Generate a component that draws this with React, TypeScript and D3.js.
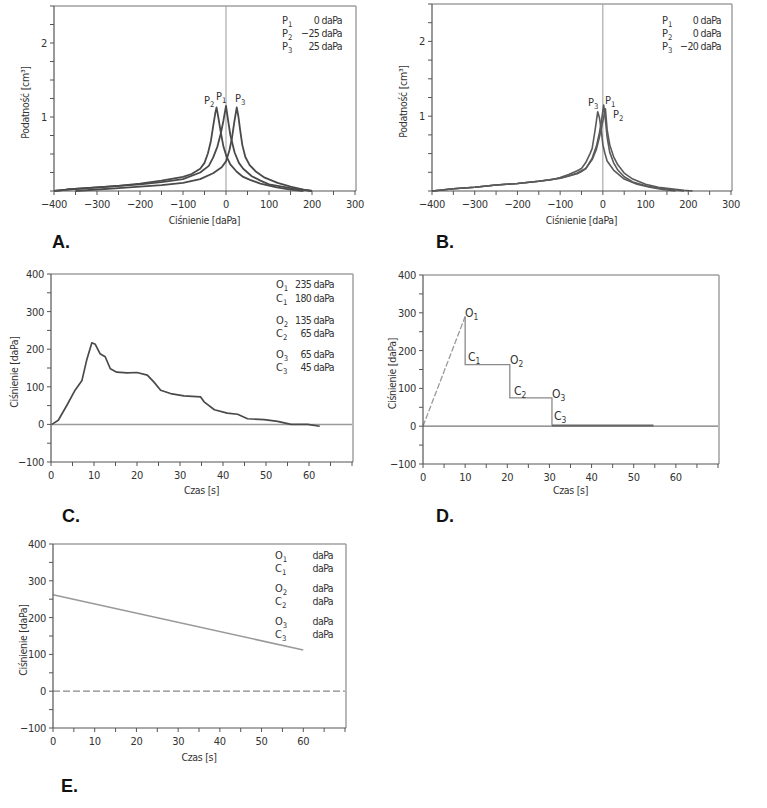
import React from 'react';
import * as d3 from 'd3';

// ---- data ----
// A: tympanograms, pressure [daPa] vs compliance [cm3]
const curveA_P2: [number, number][] = [[-400,0],[-370,0.02],[-300,0.05],[-250,0.07],[-200,0.1],[-150,0.14],[-100,0.19],[-80,0.23],[-60,0.3],[-50,0.38],[-42,0.51],[-35,0.68],[-30,0.87],[-25,1.05],[-22,1.13],[-18,1.0],[-12,0.79],[-6,0.6],[1,0.47],[10,0.36],[25,0.26],[40,0.19],[56,0.15],[80,0.1],[118,0.05],[150,0.02],[180,0]];
const curveA_P1: [number, number][] = [[-400,0],[-370,0.02],[-300,0.05],[-200,0.09],[-150,0.12],[-100,0.16],[-60,0.25],[-40,0.34],[-30,0.45],[-20,0.6],[-12,0.78],[-6,0.95],[0,1.15],[5,0.95],[10,0.76],[20,0.52],[30,0.38],[40,0.3],[60,0.2],[80,0.14],[100,0.09],[150,0.04],[200,0]];
const curveA_P3: [number, number][] = [[-350,0],[-300,0.02],[-250,0.04],[-200,0.06],[-150,0.08],[-100,0.11],[-60,0.16],[-30,0.24],[-10,0.32],[0,0.4],[8,0.55],[14,0.72],[19,0.92],[25,1.13],[29,1.0],[33,0.82],[38,0.62],[45,0.46],[55,0.35],[70,0.26],[90,0.18],[120,0.11],[150,0.06],[180,0.02],[200,0]];

// B: tympanograms
const curveB_P3: [number, number][] = [[-400,0],[-380,0.01],[-350,0.03],[-300,0.05],[-250,0.08],[-200,0.1],[-150,0.13],[-120,0.15],[-100,0.18],[-80,0.22],[-60,0.27],[-50,0.3],[-40,0.38],[-30,0.5],[-25,0.57],[-18,0.82],[-12,1.06],[-8,0.98],[-4,0.82],[0,0.62],[5,0.5],[10,0.4],[25,0.28],[50,0.16],[80,0.09],[110,0.05],[140,0.02],[170,0]];
const curveB_P1: [number, number][] = [[-400,0],[-350,0.03],[-300,0.05],[-250,0.08],[-200,0.1],[-150,0.13],[-100,0.17],[-80,0.2],[-60,0.23],[-50,0.26],[-40,0.3],[-25,0.44],[-15,0.6],[-8,0.78],[-3,0.95],[2,1.15],[6,0.95],[10,0.72],[16,0.52],[25,0.38],[35,0.28],[50,0.19],[70,0.12],[100,0.07],[130,0.04],[160,0.02],[190,0]];
const curveB_P2: [number, number][] = [[-400,0],[-350,0.03],[-300,0.05],[-250,0.08],[-200,0.1],[-150,0.13],[-100,0.17],[-80,0.2],[-60,0.24],[-40,0.3],[-25,0.42],[-15,0.56],[-8,0.72],[-2,0.88],[3,1.02],[6,1.1],[10,0.82],[16,0.62],[25,0.46],[35,0.35],[50,0.24],[70,0.16],[100,0.09],[130,0.05],[160,0.03],[190,0.01],[210,0]];

// C: pressure [daPa] vs time [s]
const timeC = [0.2,1.7,3.7,5.6,7.2,8.3,9.5,10.3,11.4,12.6,13.8,15.3,17.7,20,22.4,23.9,25.5,27.8,30.9,34.8,35.6,38,41,43.4,45.7,49.6,52.7,55.8,59.7,62.5];
const pressC = [0,11,51,91,117,171,217,213,188,180,148,139,137,138,131,113,91,82,76,73,60,39,30,27,15,12.5,8,0,0,-5];

// D: stepped pressure protocol
const riseD: [number, number][] = [[0, 0], [10, 290]];
const stepsD: [number, number][] = [[10, 290], [10, 163], [20.6, 163], [20.6, 75], [30.6, 75], [30.6, 2]];
const tailD: [number, number][] = [[30.6, 2], [54.7, 2]];

// E: linear decay
const lineE: [number, number][] = [[0, 262], [60, 112]];

// tick values
const tympXTicks = [-400, -300, -200, -100, 0, 100, 200, 300];
const tympXMinor = [-350, -250, -150, -50, 50, 150, 250];
const tympYTicks = [1, 2];
const tympYMinor = [0, 0.25, 0.5, 0.75, 1.25, 1.5, 1.75, 2.25, 2.5];
const timeXTicks = [0, 10, 20, 30, 40, 50, 60];
const timeXMinor = [5, 15, 25, 35, 45, 55, 65, 70];
const pressYTicks = [-100, 0, 100, 200, 300, 400];
const pressYMinor = [-50, 50, 150, 250, 350];

const legendA = [['P', '1', '0 daPa'], ['P', '2', '\u221225 daPa'], ['P', '3', '25 daPa']];
const legendB = [['P', '1', '0 daPa'], ['P', '2', '0 daPa'], ['P', '3', '\u221220 daPa']];
const legendC = [['O', '1', '235 daPa'], ['C', '1', '180 daPa'], ['O', '2', '135 daPa'], ['C', '2', '65 daPa'], ['O', '3', '65 daPa'], ['C', '3', '45 daPa']];
const legendE = [['O', '1', 'daPa'], ['C', '1', 'daPa'], ['O', '2', 'daPa'], ['C', '2', 'daPa'], ['O', '3', 'daPa'], ['C', '3', 'daPa']];

const FONT = "'Liberation Sans Narrow', 'DejaVu Sans Condensed', 'Arial Narrow', sans-serif";
const AXIS = '#555';
const FRAME = '#a0a0a0';

const Sub = ({ x, y, base, sub, size = 11, anchor = 'start' }: any) => (
  <text x={x} y={y} fontSize={size} fontFamily={FONT} fill="#333" textAnchor={anchor}>
    {base}
    <tspan dy={3} fontSize={size * 0.7}>{sub}</tspan>
  </text>
);

const Val = ({ x, y, t }: any) => (
  <text x={x} y={y} fontSize={10.5} letterSpacing={-0.6} fontFamily={FONT} fill="#333" textAnchor="end">{t}</text>
);

interface PanelProps {
  x0: number; x1: number; y0: number; y1: number;
  xDomain: [number, number]; yDomain: [number, number];
  xTicks: number[]; xMinor: number[]; yTicks: number[]; yMinor: number[];
  xTitle: string; yTitle: string; yTitleX: number; xTitleY: number;
  children: (x: d3.ScaleLinear<number, number>, y: d3.ScaleLinear<number, number>) => React.ReactNode;
}

const Panel = (p: PanelProps) => {
  const x = d3.scaleLinear().domain(p.xDomain).range([p.x0, p.x1]);
  const y = d3.scaleLinear().domain(p.yDomain).range([p.y1, p.y0]);
  const fmt = (v: number) => (v < 0 ? '\u2212' + Math.abs(v) : String(v));
  return (
    <g>
      {/* frame */}
      <line x1={p.x0} x2={p.x1 + 1} y1={p.y0} y2={p.y0} stroke={FRAME} strokeWidth={1.5} />
      <line x1={p.x1 + 1} x2={p.x1 + 1} y1={p.y0} y2={p.y1} stroke={FRAME} strokeWidth={1.5} />
      {p.children(x, y)}
      {/* axes */}
      <line x1={p.x0} x2={p.x0} y1={p.y0} y2={p.y1} stroke={AXIS} strokeWidth={1.2} />
      <line x1={p.x0} x2={p.x1 + 1} y1={p.y1} y2={p.y1} stroke={AXIS} strokeWidth={1.2} />
      {p.xTicks.concat(p.xMinor).map((t) => (
        <line key={'xt' + t} x1={x(t)} x2={x(t)} y1={p.y1} y2={p.y1 + 4} stroke={AXIS} strokeWidth={1} />
      ))}
      {p.yTicks.concat(p.yMinor).map((t) => (
        <line key={'yt' + t} x1={p.x0 - 4} x2={p.x0} y1={y(t)} y2={y(t)} stroke={AXIS} strokeWidth={1} />
      ))}
      {p.xTicks.map((t) => (
        <text key={'xl' + t} x={x(t)} y={p.y1 + 17} fontSize={11} letterSpacing={-0.3} fontFamily={FONT} fill="#333" textAnchor="middle">{fmt(t)}</text>
      ))}
      {p.yTicks.map((t) => (
        <text key={'yl' + t} x={p.x0 - 7} y={y(t) + 4} fontSize={11} letterSpacing={-0.3} fontFamily={FONT} fill="#333" textAnchor="end">{fmt(t)}</text>
      ))}
      <text x={(p.x0 + p.x1) / 2} y={p.xTitleY} fontSize={10.5} letterSpacing={-0.3} fontFamily={FONT} fill="#333" textAnchor="middle">{p.xTitle}</text>
      <text transform={`translate(${p.yTitleX},${(p.y0 + p.y1) / 2 + 4}) rotate(-90)`} fontSize={10.5} letterSpacing={-0.3} fontFamily={FONT} fill="#333" textAnchor="middle">{p.yTitle}</text>
    </g>
  );
};

const PanelLabel = ({ x, y, t }: any) => (
  <text x={x} y={y} fontSize={18} fontWeight="bold" fontFamily="'Liberation Sans', Arial, sans-serif" fill="#111">{t}</text>
);

export default function App() {
  const lineGen = (x: any, y: any) => d3.line<[number, number]>().x((d) => x(d[0])).y((d) => y(d[1]));
  const curveStyle = { fill: 'none', stroke: '#4a4a4a', strokeWidth: 1.8, strokeLinejoin: 'round' as const };
  const curveStyleB = { fill: 'none', stroke: '#5a5a5a', strokeWidth: 1.6, strokeLinejoin: 'round' as const };
  const dataC: [number, number][] = timeC.map((t, i) => [t, pressC[i]]);

  return (
    <svg width={767} height={808} style={{ position: 'absolute', left: 0, top: 0, background: '#fff' }}>
      <rect width={767} height={808} fill="#fff" />

      {/* A */}
      <Panel x0={54} x1={355} y0={6} y1={191} xDomain={[-400, 300]} yDomain={[0, 2.5]}
        xTicks={tympXTicks} xMinor={tympXMinor} yTicks={tympYTicks} yMinor={tympYMinor}
        xTitle="Ciśnienie [daPa]" yTitle="Podatność [cm³]" yTitleX={29} xTitleY={224}>
        {(x, y) => (
          <g>
            <line x1={x(0)} x2={x(0)} y1={6} y2={191} stroke="#999" strokeWidth={1} />
            {[curveA_P2, curveA_P1, curveA_P3].map((c, i) => (
              <path key={i} d={lineGen(x, y)(c) as string} {...curveStyle} />
            ))}
          </g>
        )}
      </Panel>
      <Sub x={204} y={104} base="P" sub="2" />
      <Sub x={216} y={100} base="P" sub="1" />
      <Sub x={235} y={102} base="P" sub="3" />
      {legendA.map((r, i) => (
        <g key={'la' + i}>
          <Sub x={282} y={24 + i * 13} base={r[0]} sub={r[1]} />
          <Val x={342} y={24 + i * 13} t={r[2]} />
        </g>
      ))}
      <PanelLabel x={52} y={248} t="A." />

      {/* B */}
      <Panel x0={432} x1={731} y0={4} y1={191} xDomain={[-400, 300]} yDomain={[0, 2.5]}
        xTicks={tympXTicks} xMinor={tympXMinor} yTicks={tympYTicks} yMinor={tympYMinor}
        xTitle="Ciśnienie [daPa]" yTitle="Podatność [cm³]" yTitleX={407} xTitleY={224}>
        {(x, y) => (
          <g>
            <line x1={x(0)} x2={x(0)} y1={4} y2={191} stroke="#999" strokeWidth={1} />
            {[curveB_P3, curveB_P1, curveB_P2].map((c, i) => (
              <path key={i} d={lineGen(x, y)(c) as string} {...curveStyleB} />
            ))}
          </g>
        )}
      </Panel>
      <Sub x={588} y={106} base="P" sub="3" />
      <Sub x={605} y={104} base="P" sub="1" />
      <Sub x={613} y={118} base="P" sub="2" />
      {legendB.map((r, i) => (
        <g key={'lb' + i}>
          <Sub x={662} y={24 + i * 13} base={r[0]} sub={r[1]} />
          <Val x={721} y={24 + i * 13} t={r[2]} />
        </g>
      ))}
      <PanelLabel x={436} y={248} t="B." />

      {/* C */}
      <Panel x0={51} x1={352} y0={274} y1={462} xDomain={[0, 70]} yDomain={[-100, 400]}
        xTicks={timeXTicks} xMinor={timeXMinor} yTicks={pressYTicks} yMinor={pressYMinor}
        xTitle="Czas [s]" yTitle="Ciśnienie [daPa]" yTitleX={18} xTitleY={494}>
        {(x, y) => (
          <g>
            <line x1={x(0)} x2={x(70)} y1={y(0)} y2={y(0)} stroke="#9a9a9a" strokeWidth={1.5} />
            <path d={lineGen(x, y)(dataC) as string} {...curveStyle} strokeWidth={1.7} />
          </g>
        )}
      </Panel>
      {legendC.map((r, i) => {
        const yy = 288 + [0, 14, 36, 49, 70, 83][i];
        return (
          <g key={'lc' + i}>
            <Sub x={276} y={yy} base={r[0]} sub={r[1]} />
            <Val x={334} y={yy} t={r[2]} />
          </g>
        );
      })}
      <PanelLabel x={62} y={522} t="C." />

      {/* D */}
      <Panel x0={423} x1={718} y0={275} y1={464} xDomain={[0, 70]} yDomain={[-100, 400]}
        xTicks={timeXTicks} xMinor={timeXMinor} yTicks={pressYTicks} yMinor={pressYMinor}
        xTitle="Czas [s]" yTitle="Ciśnienie [daPa]" yTitleX={396} xTitleY={494}>
        {(x, y) => (
          <g>
            <line x1={x(0)} x2={x(70)} y1={y(0)} y2={y(0)} stroke="#777" strokeWidth={1.2} />
            <path d={lineGen(x, y)(riseD) as string} fill="none" stroke="#9a9a9a" strokeWidth={1.3} strokeDasharray="6 2" />
            <path d={lineGen(x, y)(stepsD) as string} fill="none" stroke="#8a8a8a" strokeWidth={1.3} />
            <path d={lineGen(x, y)(tailD) as string} fill="none" stroke="#666" strokeWidth={2} />
          </g>
        )}
      </Panel>
      <Sub x={465} y={317} base="O" sub="1" size={12} />
      <Sub x={468} y={361} base="C" sub="1" size={12} />
      <Sub x={510} y={364} base="O" sub="2" size={12} />
      <Sub x={514} y={395} base="C" sub="2" size={12} />
      <Sub x={552} y={398} base="O" sub="3" size={12} />
      <Sub x={554} y={420} base="C" sub="3" size={12} />
      <PanelLabel x={436} y={522} t="D." />

      {/* E */}
      <Panel x0={53} x1={345} y0={544} y1={728} xDomain={[0, 70]} yDomain={[-100, 400]}
        xTicks={timeXTicks} xMinor={timeXMinor} yTicks={pressYTicks} yMinor={pressYMinor}
        xTitle="Czas [s]" yTitle="Ciśnienie [daPa]" yTitleX={27} xTitleY={761}>
        {(x, y) => (
          <g>
            <line x1={x(0)} x2={x(70)} y1={y(0)} y2={y(0)} stroke="#888" strokeWidth={1.3} strokeDasharray="7 3" />
            <path d={lineGen(x, y)(lineE) as string} fill="none" stroke="#999" strokeWidth={1.6} />
          </g>
        )}
      </Panel>
      {legendE.map((r, i) => {
        const yy = 559 + [0, 13, 33, 46, 66, 79][i];
        return (
          <g key={'le' + i}>
            <Sub x={275} y={yy} base={r[0]} sub={r[1]} />
            <Val x={333} y={yy} t={r[2]} />
          </g>
        );
      })}
      <PanelLabel x={61} y={792} t="E." />
    </svg>
  );
}
